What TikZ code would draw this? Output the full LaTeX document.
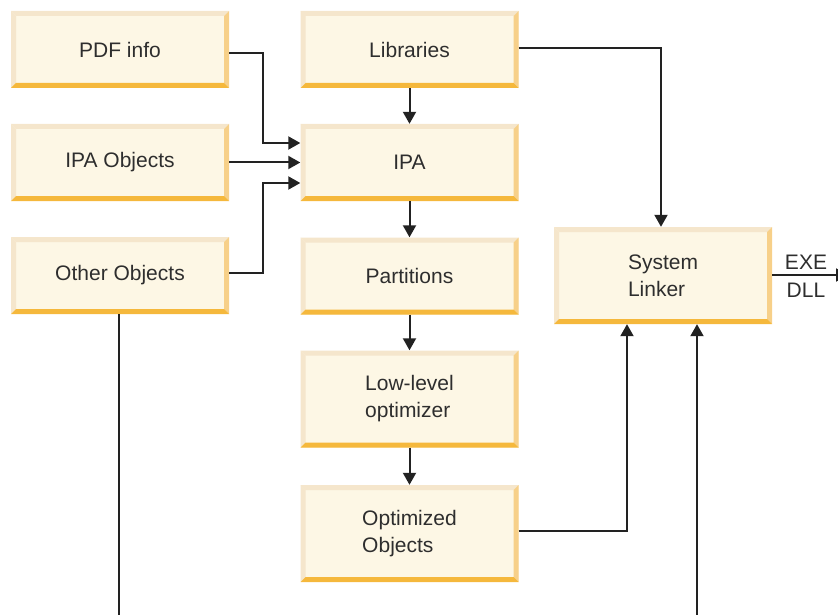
\documentclass[tikz,border=0pt]{standalone}
\usepackage{fontspec}
\setmainfont{Liberation Sans}
\usetikzlibrary{arrows.meta,calc}
\definecolor{boxfill}{HTML}{FDF7E5}
\definecolor{bevlight}{HTML}{F5E6CC}
\definecolor{bevright}{HTML}{F7D089}
\definecolor{bevbottom}{HTML}{F5B83C}
\definecolor{linec}{HTML}{222222}
\definecolor{textc}{HTML}{2E2E2E}
\tikzset{
  box/.style={fill=boxfill, minimum width=218pt, minimum height=77pt, inner sep=0pt,
    align=left, text=textc, font=\fontsize{21}{27}\selectfont,
    path picture={
      \coordinate (nw) at (path picture bounding box.north west);
      \coordinate (ne) at (path picture bounding box.north east);
      \coordinate (sw) at (path picture bounding box.south west);
      \coordinate (se) at (path picture bounding box.south east);
      \fill[bevlight] (nw) -- (ne) -- ([xshift=-5pt,yshift=-5pt]ne) -- ([xshift=5pt,yshift=-5pt]nw) -- cycle;
      \fill[bevlight] (nw) -- ([xshift=5pt,yshift=-5pt]nw) -- ([xshift=5pt,yshift=5pt]sw) -- (sw) -- cycle;
      \fill[bevright] (ne) -- (se) -- ([xshift=-5pt,yshift=5pt]se) -- ([xshift=-5pt,yshift=-5pt]ne) -- cycle;
      \fill[bevbottom] (sw) -- (se) -- ([xshift=-5pt,yshift=5pt]se) -- ([xshift=5pt,yshift=5pt]sw) -- cycle;
    }},
  tall/.style={minimum height=97pt},
  conn/.style={draw=linec, line width=2pt},
  arr/.style={conn, -{Triangle[length=12pt,width=13pt]}},
  lbl/.style={text=textc, font=\fontsize{21}{27}\selectfont, inner sep=0pt}
}
\begin{document}
\begin{tikzpicture}[x=1pt,y=-1pt]
\useasboundingbox (0,0) rectangle (838,615);
\clip (0,0) rectangle (838,615);
\node[box] (pdf) at (120,49.5) {PDF info};
\node[box] (lib) at (409.5,49.5) {Libraries};
\node[box] (ipao) at (120,162.5) {IPA Objects};
\node[box] (ipa) at (409.5,162.5) {IPA};
\node[box] (other) at (120,275.5) {Other Objects};
\node[box] (part) at (409.5,276) {Partitions};
\node[box,tall] (low) at (409.5,399) {Low-level\\optimizer};
\node[box,tall] (opt) at (409.5,533.5) {Optimized\\Objects};
\node[box,tall] (sys) at (663,275.5) {System\\Linker};
\coordinate (outend) at (848,275);
\coordinate (bot1) at (119,620);
\coordinate (bot2) at (697,620);
\draw[arr] (pdf.east|-0,53) -| (263,143) -- (ipa.west|-0,143);
\draw[arr] (ipao.east) -- (ipa.west);
\draw[arr] (other.east|-0,273) -| (263,183) -- (ipa.west|-0,183);
\draw[arr] (lib) -- (ipa);
\draw[arr] (ipa) -- (part);
\draw[arr] (part) -- (low);
\draw[arr] (low) -- (opt);
\draw[arr] (lib.east|-0,48) -| (sys.north-|661,0);
\draw[arr] (opt.east|-0,531) -| (sys.south-|627,0);
\draw[arr] (bot2) -- (sys.south-|bot2);
\draw[conn] (other.south-|bot1) -- (bot1);
\draw[arr] (sys.east|-outend) -- (outend);
\node[lbl] (exe) at (806,262) {EXE};
\node[lbl] (dll) at (806,290) {DLL};
\end{tikzpicture}
\end{document}
